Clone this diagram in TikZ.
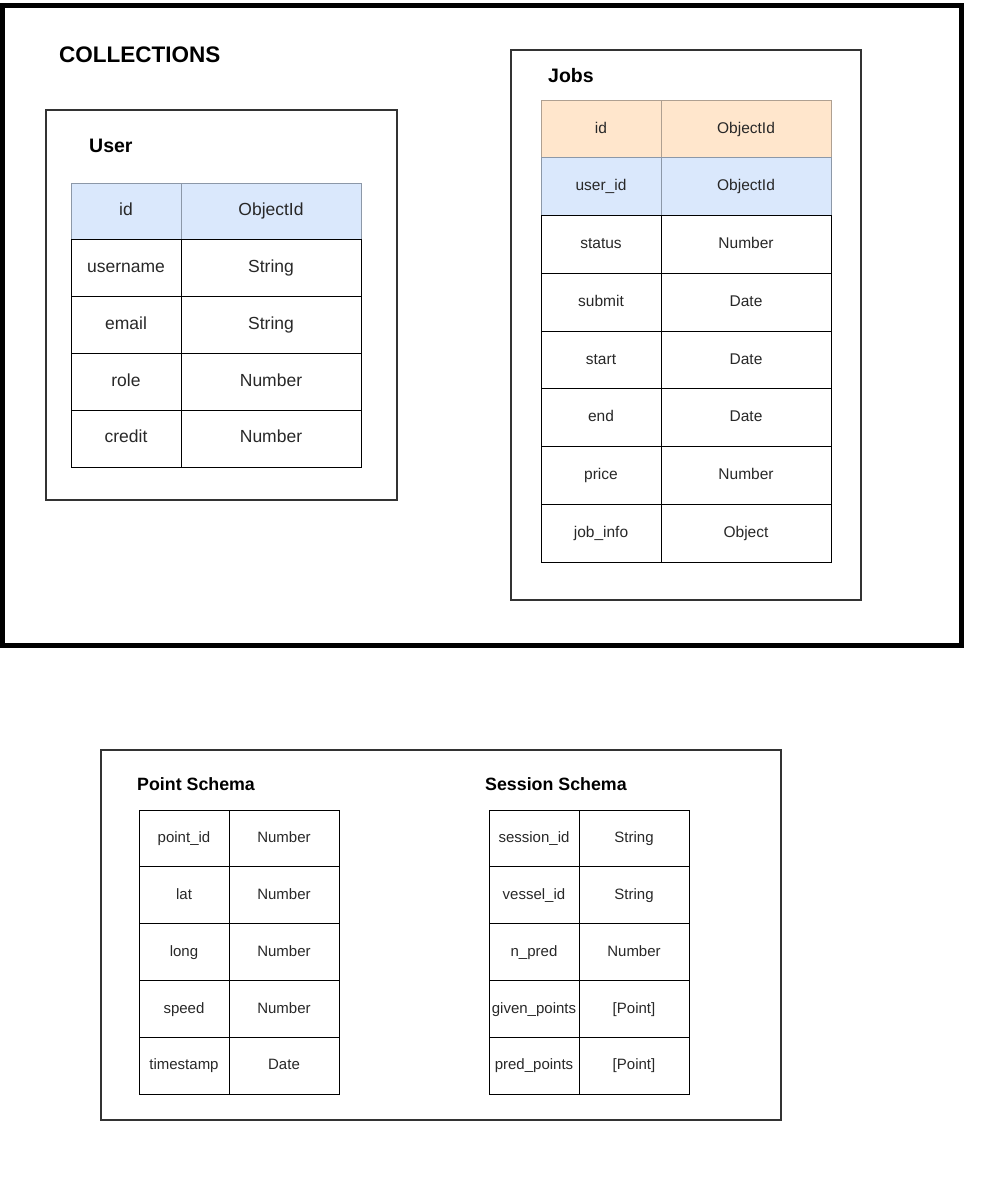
\documentclass[tikz,border=0pt]{standalone}
\usepackage{fontspec}
\setmainfont{Liberation Sans}
\definecolor{bluefill}{HTML}{DAE8FC}
\definecolor{blueline}{RGB}{140,152,168}
\definecolor{peachfill}{HTML}{FFE6CC}
\definecolor{peachline}{RGB}{175,160,145}
\definecolor{txt}{RGB}{40,40,40}
\begin{document}
\begin{tikzpicture}[x=1pt,y=-1pt,
  frame/.style={draw=black!80, line width=2pt, inner sep=0pt, outer sep=0pt, anchor=north west},
  cell/.style={draw=black, line width=1pt, fill=white, inner sep=0pt, outer sep=0pt, text=txt,
               text height=0.95em, text depth=0.1em},
  title/.style={anchor=west, inner sep=0pt, font=\bfseries\fontsize{#1}{#1}\selectfont}
]
\useasboundingbox (0,0) rectangle (985,1191);

% outer collections frame
\node[draw=black, line width=5pt, inner sep=0pt, outer sep=0pt, anchor=north west,
      minimum width=959, minimum height=640] (outer) at (2,5) {};
\node[title=22.5] (colltitle) at (59,55) {COLLECTIONS};

% User box
\node[frame, minimum width=351, minimum height=390] (userbox) at (46,110) {};
\node[title=19.5] (usertitle) at (89,146) {User};
\begin{scope}[font=\fontsize{17.5}{20}\selectfont]
\foreach \k/\v [count=\i] in {id/ObjectId, username/String, email/String, role/Number, credit/Number} {
  \pgfmathsetmacro{\yc}{183+56.8*(\i-0.5)}
  \ifnum\i=1
    \node[cell, fill=bluefill, draw=blueline, minimum width=110, minimum height=56.8] (uk\i) at (126,\yc) {\k};
    \node[cell, fill=bluefill, draw=blueline, minimum width=180, minimum height=56.8] (uv\i) at (271,\yc) {\v};
  \else
    \node[cell, minimum width=110, minimum height=56.8] (uk\i) at (126,\yc) {\k};
    \node[cell, minimum width=180, minimum height=56.8] (uv\i) at (271,\yc) {\v};
  \fi
}
\end{scope}

% Jobs box
\node[frame, minimum width=350, minimum height=550] (jobsbox) at (511,50) {};
\node[title=19.5] (jobstitle) at (548,76) {Jobs};
\begin{scope}[font=\fontsize{15.5}{18}\selectfont]
\foreach \k/\v [count=\i] in {id/ObjectId, user\_id/ObjectId, status/Number, submit/Date, start/Date, end/Date, price/Number, job\_info/Object} {
  \pgfmathsetmacro{\yc}{100+57.75*(\i-0.5)}
  \ifnum\i=1
    \node[cell, fill=peachfill, draw=peachline, minimum width=120, minimum height=57.75] (jk\i) at (601,\yc) {\k};
    \node[cell, fill=peachfill, draw=peachline, minimum width=170, minimum height=57.75] (jv\i) at (746,\yc) {\v};
  \else\ifnum\i=2
    \node[cell, fill=bluefill, draw=blueline, minimum width=120, minimum height=57.75] (jk\i) at (601,\yc) {\k};
    \node[cell, fill=bluefill, draw=blueline, minimum width=170, minimum height=57.75] (jv\i) at (746,\yc) {\v};
  \else
    \node[cell, minimum width=120, minimum height=57.75] (jk\i) at (601,\yc) {\k};
    \node[cell, minimum width=170, minimum height=57.75] (jv\i) at (746,\yc) {\v};
  \fi\fi
}
\end{scope}

% Schema box
\node[frame, minimum width=680, minimum height=370] (schemabox) at (101,750) {};
\node[title=17.8] (pointtitle) at (137,784) {Point Schema};
\node[title=17.8] (sessiontitle) at (485,784) {Session Schema};
\begin{scope}[font=\fontsize{15}{18}\selectfont]
\foreach \k/\v [count=\i] in {point\_id/Number, lat/Number, long/Number, speed/Number, timestamp/Date} {
  \pgfmathsetmacro{\yc}{810+56.8*(\i-0.5)}
  \node[cell, minimum width=90, minimum height=56.8] (pk\i) at (184,\yc) {\k};
  \node[cell, minimum width=110, minimum height=56.8] (pv\i) at (284,\yc) {\v};
}
\foreach \k/\v [count=\i] in {session\_id/String, vessel\_id/String, n\_pred/Number, given\_points/[Point], pred\_points/[Point]} {
  \pgfmathsetmacro{\yc}{810+56.8*(\i-0.5)}
  \node[cell, minimum width=90, minimum height=56.8] (sk\i) at (534,\yc) {\k};
  \node[cell, minimum width=110, minimum height=56.8] (sv\i) at (634,\yc) {\v};
}
\end{scope}
\end{tikzpicture}
\end{document}
